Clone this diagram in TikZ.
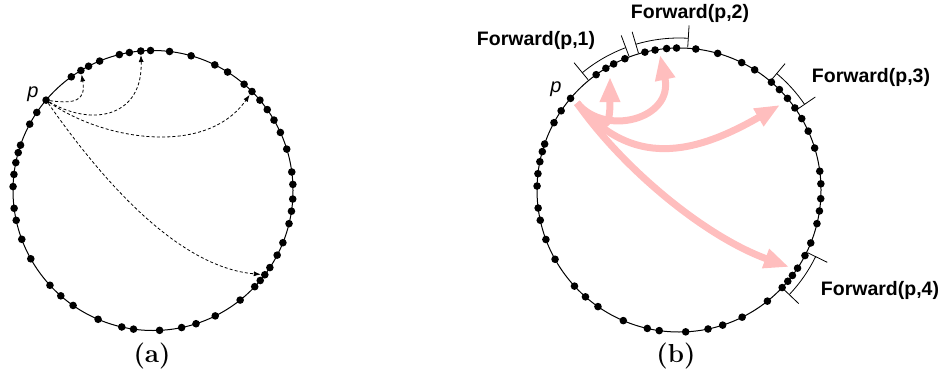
\documentclass[tikz,border=0pt]{standalone}
\usepackage{fontspec}
\newfontfamily\labelfont{Liberation Sans}
\usetikzlibrary{arrows.meta,calc}
\definecolor{ringpink}{RGB}{255,190,190}
\begin{document}
\begin{tikzpicture}[x=1pt,y=1pt,
  ring/.style={line width=1pt},
  dot/.style={circle,fill=black,inner sep=0pt,minimum size=7.6pt},
  hop/.style={dash pattern=on 3pt off 2.2pt,line width=0.8pt,-{Latex[length=7pt,width=5pt]}},
  fwd/.style={line width=7pt,draw=ringpink,-{Triangle[length=25pt,width=19pt,fill=ringpink]}},
  bracket/.style={line width=0.8pt},
  fwdlabel/.style={font=\labelfont\bfseries\fontsize{19.5}{22}\selectfont,inner sep=0pt},
  plabel/.style={font=\labelfont\itshape\fontsize{20}{24}\selectfont,inner sep=0pt},
  caption/.style={font=\bfseries\fontsize{26}{30}\selectfont,inner sep=0pt}]
\useasboundingbox (0,0) rectangle (947,381);

\coordinate (ca) at (153,190.5);
\coordinate (cb) at (679,191);

% ---------------- (a): ring with dashed hops ----------------
\draw[ring] (ca) circle[radius=140];
\foreach \ang [count=\i] in {103.9,99.7,95.0,91.0,83.2,74.2,63.8,57.8,49.4,45.0,
    40.2,35.3,30.2,24.5,17.2,7.6,2.5,-3.5,-8.5,-13.7,-21.9,-27.5,-33.4,-37.0,-40.0,
    -43.4,-51.5,-63.6,-72.1,-78.2,-87.3,-98.0,-102.9,-113.1,-124.8,-131.2,-137.4,
    -150.8,-159.6,-167.7,-172.7,178.4,173.4,168.5,164.3,161.1,151.7,146.1,139.8,
    125.7,121.0,117.4,112.4}
  {\node[dot] (a\i) at ($(ca)+(\ang:140)$) {};}
\node[plabel] (pa) at (33,286.5) {p};

\draw[hop] (a49) .. controls +(-8:30) and +(-80:30) .. (a51);
\draw[hop] (a49) .. controls +(-30:55) and +(-88:65) .. (a3);
\draw[hop] (a49) .. controls +(-35:70) and +(-125:80) .. (a10);
\draw[hop] (a49) .. controls +(-55:90) and +(175:90) .. (a24);

\node[caption] (capa) at (152,25) {(a)};

% ---------------- (b): ring with forward ranges ----------------
\coordinate (s) at (577,278);
\coordinate (t1) at (610,304);
\coordinate (t2) at (660,326);
\coordinate (t3) at (780,276);
\coordinate (t4) at (789,114);
\draw[fwd] (s) .. controls +(-50:45) and +(-90:50) .. (t1);
\draw[fwd] (s) .. controls +(-50:45) and +(-78:65) .. (t2);
\draw[fwd] (s) .. controls +(-50:85) and +(-150:100) .. (t3);
\draw[fwd] (s) .. controls +(-55:80) and +(160:90) .. (t4);

\draw[ring] (cb) circle[radius=142];
\foreach \ang [count=\i] in {103.9,99.7,95.0,91.0,83.2,74.2,63.8,57.8,49.4,45.0,
    40.2,35.3,30.2,24.5,17.2,7.6,2.5,-3.5,-8.5,-13.7,-21.9,-27.5,-33.4,-37.0,-40.0,
    -43.4,-51.5,-63.6,-72.1,-78.2,-87.3,-98.0,-102.9,-113.1,-124.8,-131.2,-137.4,
    -150.8,-159.6,-167.7,-172.7,178.4,173.4,168.5,164.3,161.1,151.7,146.1,139.8,
    125.7,121.0,117.4,112.4}
  {\node[dot] (b\i) at ($(cb)+(\ang:142)$) {};}
\node[plabel] (pb) at (556,292) {p};

% brackets marking each forward range
\foreach \s/\e in {129.5/110.5,106.5/86.5,50/34.3,-26/-43.5} {
  \draw[bracket] ($(cb)+(\s:143)$) -- ($(cb)+(\s:165)$);
  \draw[bracket] ($(cb)+(\e:143)$) -- ($(cb)+(\e:165)$);
  \draw[bracket] ($(cb)+(\s:152)$) arc[start angle=\s,end angle=\e,radius=152];
}
\node[fwdlabel] (f1) at (536,341) {Forward(p,1)};
\node[fwdlabel] (f2) at (690,368) {Forward(p,2)};
\node[fwdlabel] (f3) at (871,304) {Forward(p,3)};
\node[fwdlabel] (f4) at (880,91) {Forward(p,4)};

\node[caption] (capb) at (676,25) {(b)};
\end{tikzpicture}
\end{document}
